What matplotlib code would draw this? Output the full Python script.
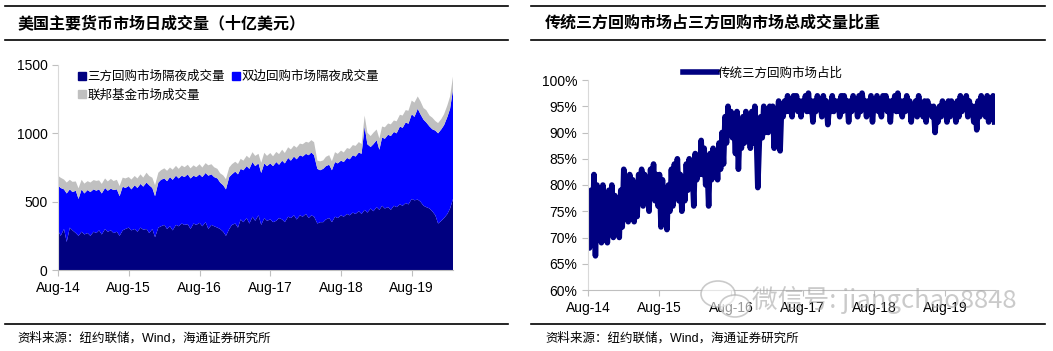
import numpy as np
import matplotlib
matplotlib.use('Agg')
import matplotlib.pyplot as plt
import matplotlib.dates as mdates
from matplotlib.patches import Patch, Ellipse
from matplotlib.lines import Line2D
import pandas as pd

plt.rcParams['font.family'] = ['Liberation Sans', 'Noto Sans CJK SC']

# ---- data: left chart, half-monthly, billions USD ----
# tri-party repo overnight volume
tri_party = [290, 250, 300, 205, 310, 290, 270, 250, 280, 260,
             270, 250, 280, 270, 290, 260, 300, 280, 290, 270, 280, 250,
             290, 300, 310, 290, 300, 280, 310, 295, 300, 270, 300, 240,
             310, 320, 330, 300, 320, 290, 330, 320, 340, 330, 335, 300,
             340, 330, 345, 320, 350, 300, 330, 320, 310, 300, 280, 250,
             300, 330, 340, 310, 370, 350, 380, 340, 390, 360, 400, 330,
             380, 360, 370, 350, 360, 380, 370, 350, 390, 380, 400, 370,
             400, 390, 410, 380, 400, 390, 340, 350, 350, 370, 380, 350,
             390, 380, 400, 390, 410, 400, 420, 410, 430, 410, 440, 420,
             450, 430, 460, 440, 470, 450, 460, 440, 470, 460, 480, 470,
             490, 480, 520, 510, 515, 500, 470, 460, 450, 430, 400, 340,
             360, 380, 410, 450, 520]
# tri-party + bilateral (top of blue layer)
tri_bi_total = [620, 600, 590, 560, 590, 570, 580, 520, 590, 560,
                585, 570, 590, 580, 590, 560, 600, 580, 595, 585, 590, 540,
                610, 600, 615, 590, 620, 600, 630, 610, 640, 620, 600, 540,
                640, 660, 670, 650, 680, 660, 690, 670, 690, 680, 700, 670,
                690, 680, 700, 680, 710, 690, 700, 680, 670, 640, 620, 590,
                680, 700, 720, 700, 740, 730, 760, 740, 790, 760, 780, 710,
                780, 760, 780, 760, 790, 770, 800, 780, 820, 800, 830, 810,
                840, 830, 850, 840, 860, 840, 740, 730, 740, 760, 770, 730,
                790, 780, 800, 790, 820, 810, 840, 830, 860, 850, 1050, 920,
                900, 920, 950, 880, 970, 960, 990, 980, 1010, 1000, 1050, 1040,
                1080, 1070, 1140, 1120, 1180, 1140, 1100, 1080, 1050, 1030, 1020, 1000,
                1030, 1060, 1120, 1180, 1320]
# fed funds volume
fed_funds = [70, 75, 72, 80, 70, 75, 68, 78, 70, 72,
             65, 70, 68, 72, 66, 70, 70, 68, 72, 66, 70, 74,
             66, 70, 65, 72, 68, 70, 70, 66, 72, 68, 75, 80,
             72, 70, 74, 76, 70, 74, 72, 70, 75, 72, 70, 74,
             76, 72, 74, 70, 72, 76, 74, 72, 70, 68, 72, 75,
             70, 74, 72, 76, 74, 70, 76, 78, 72, 75, 70, 74,
             78, 75, 76, 72, 74, 78, 80, 76, 78, 82, 80, 85,
             85, 90, 88, 92, 90, 95, 60, 65, 62, 68, 70, 66,
             72, 70, 74, 70, 72, 76, 74, 78, 76, 72, 80, 85,
             80, 84, 78, 82, 80, 84, 82, 86, 84, 88, 86, 90,
             90, 95, 100, 105, 90, 95, 85, 90, 80, 85, 70, 75,
             75, 80, 85, 90, 95]

left_labels = ['三方回购市场隔夜成交量', '双边回购市场隔夜成交量', '联邦基金市场成交量']

# ---- data: right chart, roughly weekly, % ----
ratio = [77, 68, 79, 70, 82, 66.5, 80, 71, 79, 69, 80, 72, 78, 69, 79, 71, 80, 70, 78, 73,
         77, 70, 79, 72, 83, 74, 80, 73, 82, 75, 81, 73, 79, 74, 82, 77,
         83, 76, 82, 77, 81, 75, 83, 78, 84, 77, 82, 76, 82, 72, 81, 73,
         79, 71.5, 80, 75, 83, 76, 84, 78, 85, 77, 82, 75, 81, 77, 84, 79,
         85, 80, 83, 76, 86, 81, 85, 82, 88.5, 82, 87, 80, 84, 76, 86, 81,
         87, 82, 86, 81, 88, 83, 90, 84, 93, 88, 95, 90, 94, 89, 92, 86,
         94, 83, 91, 87, 93, 88, 94, 89, 92, 87, 94, 88, 95, 90, 79.5, 88,
         93, 89, 95, 90, 94, 90, 95, 91, 95, 87, 94, 92, 96, 86.5, 95, 93,
         96, 94, 97, 94, 96, 93, 97, 95, 97, 94, 96, 93, 96, 95, 97, 94,
         97.5, 94, 96, 92, 96, 94, 97, 95, 96, 93, 97, 94, 96, 91.5, 95, 94,
         97, 94, 96, 95, 96, 93, 97, 94, 97, 95, 96, 92, 96, 94, 97, 95,
         96, 93, 97, 94, 97.5, 95, 96, 93, 96, 94, 97, 92, 96, 95, 97, 94,
         96, 93, 97, 95, 97, 94, 96, 92, 96, 95, 97, 94, 97.5, 94, 96, 93,
         96, 94, 97, 95, 96, 92, 95, 94, 96, 93, 97, 94, 95, 93, 96, 92,
         96, 94, 95, 93, 95, 90, 94, 92, 95, 93, 96, 94, 95, 92, 96, 93,
         96, 94, 95, 92, 96, 93, 97, 94, 96, 95, 97, 93, 96, 94, 95, 92,
         95, 90.5, 96, 93, 97, 94, 96, 93, 97, 92, 96.5, 95, 97, 92]
right_label = '传统三方回购市场占比'

title_left = '美国主要货币市场日成交量（十亿美元）'
title_right = '传统三方回购市场占三方回购市场总成交量比重'
source = '资料来源：纽约联储，Wind，海通证券研究所'

# ---- dates ----
left_dates = pd.date_range('2014-08-01', periods=len(tri_party), freq='SMS')
right_dates = pd.date_range('2014-08-01', '2020-04-08', periods=len(ratio))
bilateral = np.array(tri_bi_total) - np.array(tri_party)

navy = '#000080'
blue = '#0000FF'
gray = '#C0C0C0'

fig = plt.figure(figsize=(10.53, 3.51), dpi=100)

# ---- left panel ----
ax1 = fig.add_axes([58 / 1053, 1 - 270 / 351, 395 / 1053, 205 / 351])
ax1.stackplot(left_dates, tri_party, bilateral, fed_funds,
              colors=[navy, blue, gray], linewidth=0)
ax1.set_ylim(0, 1500)
ax1.set_yticks([0, 500, 1000, 1500])
ax1.set_xlim(pd.Timestamp('2014-08-01'), left_dates[-1])

# ---- right panel ----
ax2 = fig.add_axes([588 / 1053, 1 - 290 / 351, 407 / 1053, 210 / 351])
ax2.plot(right_dates, ratio, color=navy, linewidth=4, solid_joinstyle='round')
ax2.set_ylim(60, 100)
ax2.set_yticks(range(60, 101, 5))
ax2.set_yticklabels([f'{v}%' for v in range(60, 101, 5)])
ax2.set_xlim(pd.Timestamp('2014-08-01'), pd.Timestamp('2020-04-10'))

for ax in (ax1, ax2):
    ax.xaxis.set_major_locator(mdates.MonthLocator(bymonth=8))
    ax.xaxis.set_major_formatter(mdates.DateFormatter('Aug-%y'))
    for s in ('top', 'right'):
        ax.spines[s].set_visible(False)
    ax.spines['left'].set_color('#D9D9D9')
    ax.spines['bottom'].set_color('#BFBFBF')
    ax.tick_params(axis='both', labelsize=10, length=4, color='#BFBFBF', width=0.8)
    ax.tick_params(axis='x', pad=4)

# legends
h_left = [Patch(color=navy), Patch(color=gray), Patch(color=blue)]
ax1.legend(h_left, [left_labels[0], left_labels[2], left_labels[1]], ncol=2,
           loc='upper left', bbox_to_anchor=(73 / 1053, 1 - 66 / 351),
           bbox_transform=fig.transFigure, frameon=False, fontsize=9,
           handlelength=0.6, handleheight=0.6, handletextpad=0.15,
           columnspacing=0.6, labelspacing=0.5, borderaxespad=0)
ax2.legend([Line2D([0], [0], color=navy, linewidth=4)], [right_label],
           loc='upper left', bbox_to_anchor=(678 / 1053, 1 - 62 / 351),
           bbox_transform=fig.transFigure, frameon=False, fontsize=9,
           handlelength=2.7, handletextpad=0.1, borderaxespad=0)

# frame lines and texts
for x0, x1, tx, title in ((5, 508, 17, title_left), (531, 1045, 545, title_right)):
    for yy, lw in ((6, 1.2), (40, 1.2), (324, 1.2)):
        fig.add_artist(Line2D([x0 / 1053, x1 / 1053], [1 - yy / 351] * 2,
                              color='black', linewidth=lw))
    fig.text(tx / 1053, 1 - 23 / 351, title, fontsize=11.5, fontweight='bold',
             va='center', ha='left', family=['Noto Sans CJK SC'])
    fig.text(tx / 1053, 1 - 338 / 351, source, fontsize=9, va='center', ha='left')

# watermark (icon outline + text)
for cx, cy, w, h in ((718, 294, 34, 26), (735, 306, 30, 22)):
    fig.add_artist(Ellipse((cx / 1053, 1 - cy / 351), w / 1053, h / 351,
                           facecolor='white', edgecolor='#A8A8A8', alpha=0.6,
                           linewidth=1.2))
fig.text(752 / 1053, 1 - 300 / 351, '微信号: jiangchao8848', fontsize=18.5,
         color='#A0A0A0', alpha=0.55, va='center', ha='left',
         family=['Noto Sans CJK SC'])

fig.savefig('out.png', dpi=100)
